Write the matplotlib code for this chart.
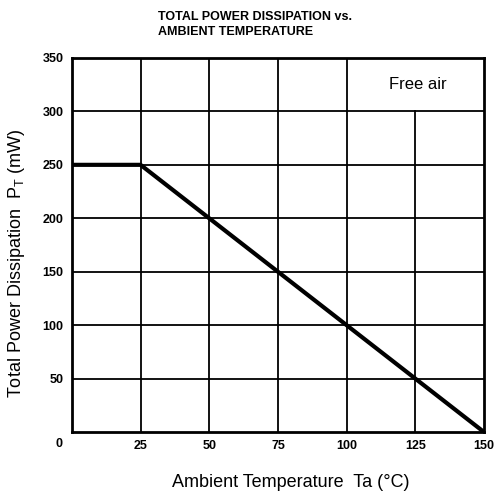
import matplotlib
matplotlib.use("Agg")
import matplotlib.pyplot as plt
from matplotlib import font_manager

# curve data (ambient temperature vs. allowed dissipation)
temp = [0, 25, 150]
power = [250, 250, 0]

x_ticks = [25, 50, 75, 100, 125, 150]
y_ticks = [50, 100, 150, 200, 250, 300, 350]

names = {f.name for f in font_manager.fontManager.ttflist}
narrow = "Liberation Sans Narrow" if "Liberation Sans Narrow" in names else "Liberation Sans"

plt.rcParams['font.family'] = ['Liberation Sans', 'DejaVu Sans']

fig = plt.figure(figsize=(4.99, 4.91), dpi=100)
ax = fig.add_axes([0.144, 0.120, 0.826, 0.762])

ax.set_xlim(0, 150)
ax.set_ylim(0, 350)

# grid
for y in y_ticks[:-1]:
    ax.plot([0, 150], [y, y], color="black", lw=1.3, zorder=1)
for x in x_ticks[:-1]:
    top = 300 if x == 125 else 350
    ax.plot([x, x], [0, top], color="black", lw=1.3, zorder=1)

ax.plot(temp, power, color="black", lw=3, solid_joinstyle="miter", zorder=3)

for s in ax.spines.values():
    s.set_linewidth(2)

ax.set_xticks(x_ticks)
ax.set_yticks(y_ticks)
ax.tick_params(length=0, pad=6)
for lab in ax.get_xticklabels() + ax.get_yticklabels():
    lab.set_fontfamily(narrow)
    lab.set_fontweight("bold")
    lab.set_fontsize(9)
ax.text(-3.5, -6, "0", ha="right", va="top", fontsize=9,
        fontweight="bold", family=narrow)

ax.text(126, 325, "Free air", ha="center", va="center", fontsize=12)

ax.set_xlabel("Ambient Temperature  Ta (°C)", fontsize=13)
ax.set_ylabel("Total Power Dissipation  P$_\\mathregular{T}$ (mW)", fontsize=13)
ax.xaxis.set_label_coords(0.53, -0.111)
ax.yaxis.set_label_coords(-0.11, 0.45)

fig.text(0.317, 0.978, "TOTAL POWER DISSIPATION vs.\nAMBIENT TEMPERATURE",
         ha="left", va="top", fontsize=9, fontweight="bold", family=narrow,
         linespacing=1.3)

fig.savefig("out.png", dpi=100)
